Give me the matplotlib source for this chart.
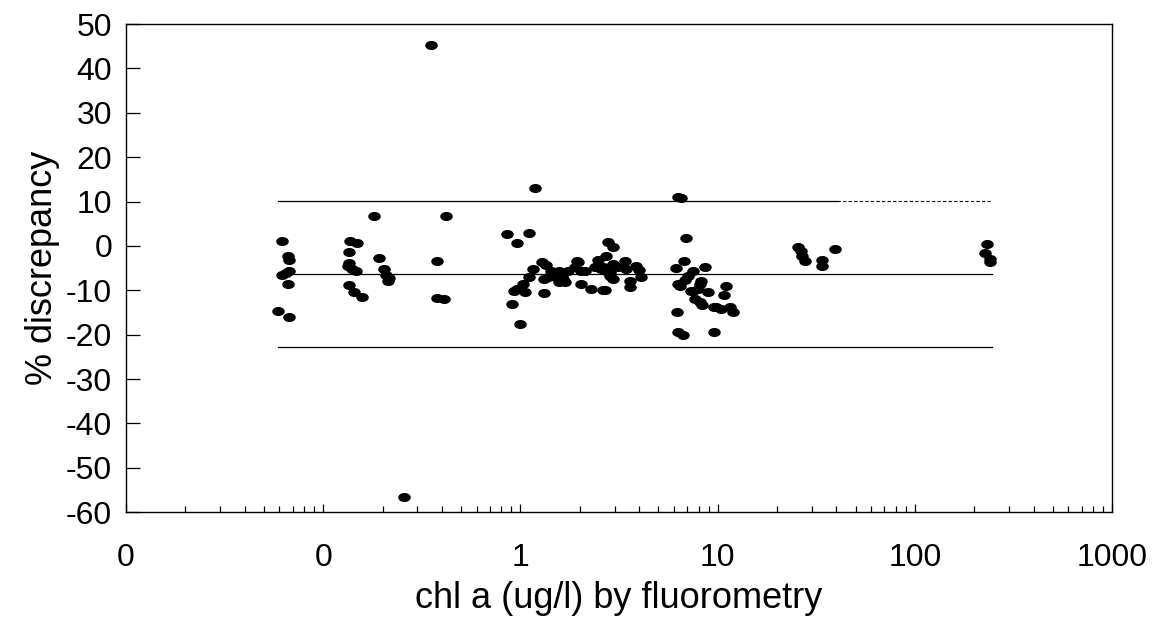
""" % discrepancy of chl a versus fluorometry value, log x axis. """
import matplotlib
matplotlib.use('Agg')
import matplotlib.pyplot as plt
from matplotlib.path import Path
from matplotlib.transforms import Affine2D
from matplotlib.ticker import LogLocator, NullFormatter, FixedLocator

plt.rcParams['font.family'] = ['Liberation Sans', 'DejaVu Sans']
plt.rcParams['axes.unicode_minus'] = False

# data
chl = [0.0621, 0.0665, 0.0670, 0.0673, 0.0621, 0.065, 0.0665, 0.0587, 0.0673,
    0.136, 0.1486, 0.135, 0.135, 0.133, 0.140, 0.147, 0.135, 0.144, 0.157,
    0.181, 0.191, 0.203, 0.209, 0.215, 0.214,
    0.351, 0.257,
    0.418, 0.377, 0.377, 0.408,
    1.18, 0.85, 0.955, 1.11, 1.11, 1.16, 1.28, 1.35, 1.035, 0.955, 0.93, 1.06,
    0.91, 1.0, 1.32, 1.43, 1.47, 1.32, 1.38,
    1.59, 1.52, 1.65, 1.69, 1.56, 1.75, 1.90, 1.96, 1.93, 2.03, 2.13, 2.03,
    2.28, 2.63, 1.56, 1.62, 2.38, 2.63,
    2.48, 2.42, 2.57, 2.72, 2.78, 2.95, 2.72, 2.85, 2.95, 2.95, 2.85, 2.69,
    3.13, 3.39, 3.43, 3.59, 3.59, 3.85, 4.0, 4.08,
    6.28, 6.50, 6.89, 6.73, 6.13, 7.48, 7.05, 6.81, 6.43, 6.28, 8.59, 8.21,
    8.11, 7.48, 7.92, 8.89, 7.66, 8.11, 8.3, 6.21, 9.55, 10.35, 9.77, 11.6,
    11.9, 10.97, 10.8, 6.28, 6.65, 9.55, 7.31,
    25.4, 26.3, 26.9, 27.8, 33.9, 33.9, 39.4,
    231, 226, 239, 239]
discrepancy = [1.0, -2.3, -3.2, -5.6, -6.5, -6.0, -8.6, -14.6, -16.0,
    1.0, 0.7, -1.4, -3.9, -4.5, -5.2, -5.7, -8.75, -10.3, -11.6,
    6.7, -2.8, -5.2, -6.6, -7.3, -8.0,
    45.4, -56.5,
    6.7, -3.5, -11.85, -12.0,
    13.1, 2.6, 0.7, 2.9, -7.1, -5.2, -3.7, -4.3, -8.6, -9.7, -10.25, -10.3,
    -13.0, -17.5, -10.7, -5.55, -6.3, -7.45, -7.1,
    -6.3, -7.1, -7.45, -8.2, -8.2, -5.55, -4.85, -3.7, -3.3, -5.55, -5.55, -8.6,
    -9.8, -9.95, -5.55, -6.7, -4.85, -4.65,
    -3.15, -4.85, -5.2, -2.2, 0.8, -0.3, -5.55, -6.7, -7.45, -4.05, -5.95, -10.0,
    -4.85, -3.3, -5.2, -7.85, -9.35, -4.45, -5.4, -7.1,
    11.0, 10.7, 1.8, -3.5, -5.0, -5.7, -6.7, -7.65, -8.95, -8.6, -4.65, -7.85,
    -8.6, -10.1, -9.7, -10.45, -11.95, -12.7, -13.4, -15.0, -13.85, -14.2, -13.7, -13.7,
    -15.0, -8.95, -11.05, -19.5, -20.0, -19.5, -10.1,
    -0.2, -1.05, -2.2, -3.3, -3.15, -4.45, -0.8,
    0.45, -1.65, -2.9, -3.7]
# mean and +/- limits
mean_line = -6.4
upper_line = 10.1
lower_line = -22.8
line_x0, line_x1, dash_x0 = 0.0587, 245, 40.4
xtick_vals = [0.01, 0.1, 1, 10, 100, 1000]
xtick_labels = ['0', '0', '1', '10', '100', '1000']
ytick_vals = list(range(-60, 51, 10))

# fig config
fig_size = (11.52, 6.23)
fsize_tick = 23
fsize_label = 26
marker_size = 8
fout = 'out.png'


def ellipse_marker():
    return Affine2D().scale(1.45, 1.0).transform_path(Path.unit_circle())


def plot_discrepancy():
    fig = plt.figure(figsize=fig_size, dpi=100)
    ax = fig.add_axes([0.1094, 0.178, 0.856, 0.7833])
    # limit lines
    ax.plot([line_x0, dash_x0], [upper_line]*2, color='k', lw=0.9)
    ax.plot([dash_x0, line_x1], [upper_line]*2, color='k', lw=0.8, ls=(0, (3, 2)))
    ax.plot([line_x0, line_x1], [mean_line]*2, color='k', lw=0.9)
    ax.plot([line_x0, line_x1], [lower_line]*2, color='k', lw=0.9)
    ax.plot(chl, discrepancy, ls='none', marker=ellipse_marker(),
        ms=marker_size, color='k', mec='k')

    ax.set_xscale('log')
    ax.set_xlim(0.01, 1000)
    ax.set_ylim(-60, 50)
    ax.xaxis.set_major_locator(FixedLocator(xtick_vals))
    ax.set_xticklabels(xtick_labels)
    ax.xaxis.set_minor_locator(LogLocator(base=10, subs=range(2, 10)))
    ax.xaxis.set_minor_formatter(NullFormatter())
    ax.set_yticks(ytick_vals)
    ax.tick_params(axis='both', which='both', direction='in', colors='k',
        labelsize=fsize_tick, width=0.9)
    ax.tick_params(axis='y', which='major', length=10, pad=10)
    ax.tick_params(axis='x', which='major', length=6, pad=22)
    ax.tick_params(axis='x', which='minor', length=4)
    for sp in ax.spines.values():
        sp.set_linewidth(1.0)
        sp.set_color('k')
    ax.set_xlabel('chl a (ug/l) by fluorometry', fontsize=fsize_label, labelpad=6)
    ax.set_ylabel('% discrepancy', fontsize=fsize_label, labelpad=4)
    fig.savefig(fout, dpi=100)
    print('wrote %s' % fout)


plot_discrepancy()
